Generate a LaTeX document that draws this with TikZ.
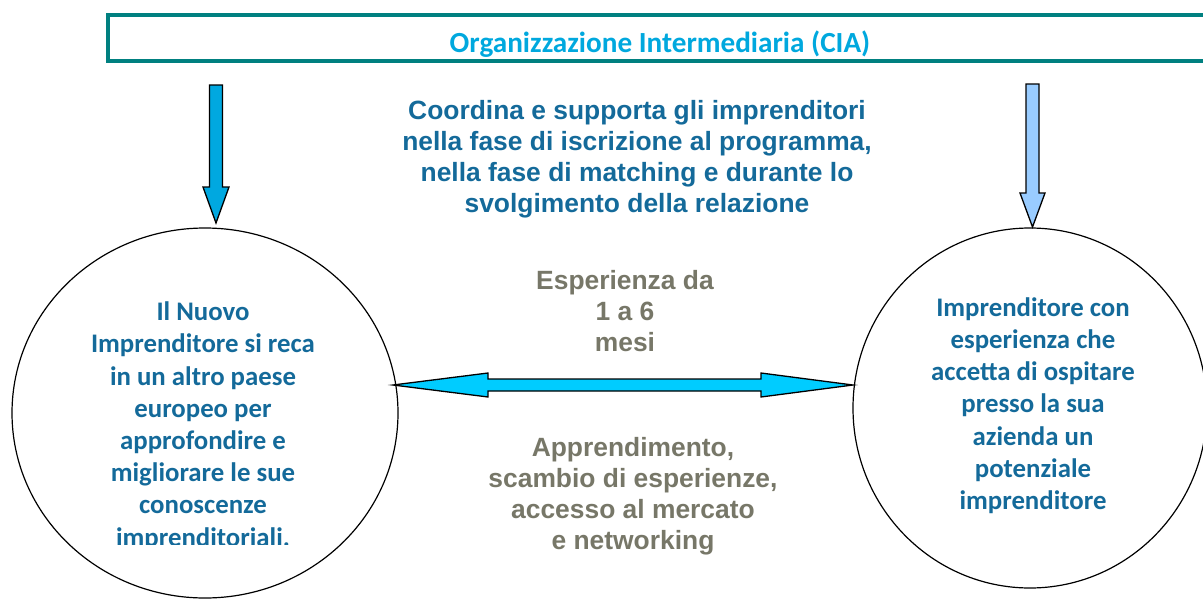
\documentclass[tikz,border=0pt]{standalone}
\usepackage{fontspec}
\setmainfont{Liberation Sans}
\newfontfamily\carl{Carlito}
\definecolor{frameteal}{RGB}{0,128,128}
\definecolor{titlecyan}{RGB}{0,168,222}
\definecolor{textblue}{RGB}{20,106,154}
\definecolor{textgray}{RGB}{119,119,104}
\definecolor{arrowblue}{RGB}{0,168,224}
\definecolor{arrowlight}{RGB}{153,204,255}
\definecolor{arrowcyan}{RGB}{0,204,255}
\tikzset{
  framebox/.style={draw=frameteal, line width=4pt},
  bubble/.style={draw=black, line width=1.2pt},
  blockarrow/.style={draw=black, line width=1.3pt, line join=miter},
  circtext/.style={font=\carl\bfseries\fontsize{26.8}{32.2}\selectfont, text=textblue, align=center, inner sep=0pt},
  midtext/.style={font=\bfseries\fontsize{26.4}{31}\selectfont, align=center, inner sep=0pt},
}
\begin{document}
\begin{tikzpicture}[x=1pt,y=-1pt]
\useasboundingbox (0,0) rectangle (1203,600);
\clip (0,0) rectangle (1203,600);

% top frame
\draw[framebox] (108,14.5) rectangle (1230,60.5);
\coordinate (ciaL) at (216,62);
\coordinate (ciaR) at (1032.5,62);
\begin{scope}
\clip (110,17) rectangle (1203,56);
\node[font=\carl\bfseries\fontsize{29.2}{32}\selectfont, text=titlecyan, anchor=base, inner sep=0pt] (cia) at (660,52) {Organizzazione Intermediaria (CIA)};
\end{scope}

% circles
\draw[bubble] (205,413) ellipse [x radius=193, y radius=185];
\node[minimum size=0pt, inner sep=0pt] (newent) at (205,413) {};
\draw[bubble] (1030,408) ellipse [x radius=177, y radius=180];
\node[minimum size=0pt, inner sep=0pt] (host) at (1030,408) {};

% vertical block arrows
\draw[blockarrow, fill=arrowblue]
  (209.5,85) -- (222.5,85) -- (222.5,187) -- (229,187) -- (216,223)
  -- (203,187) -- (209.5,187) -- cycle;
\draw[blockarrow, fill=arrowlight]
  (1026,84) -- (1039,84) -- (1039,193) -- (1045,193) -- (1032.5,227)
  -- (1020,193) -- (1026,193) -- cycle;

% horizontal double arrow
\draw[blockarrow, fill=arrowcyan]
  (393,385) -- (488,373) -- (488,379) -- (761,379) -- (761,373) -- (853,385)
  -- (761,397) -- (761,391) -- (488,391) -- (488,397) -- cycle;

% texts
\node[midtext, text=textblue] (coord) at (637,159.5)
  {Coordina e supporta gli imprenditori\\nella fase di iscrizione al programma,\\nella fase di matching e durante lo\\svolgimento della relazione};
\node[midtext, text=textgray] (esp) at (625,311)
  {Esperienza da\\1 a 6\\mesi};
\node[midtext, text=textgray] (appr) at (633,496.5)
  {Apprendimento,\\scambio di esperienze,\\accesso al mercato\\e networking};

\begin{scope}
\clip (0,0) rectangle (400,544.5);
\node[circtext] (lefttext) at (203,426)
  {Il Nuovo\\Imprenditore si reca\\in un altro paese\\europeo per\\approfondire e\\migliorare le sue\\conoscenze\\imprenditoriali.};
\end{scope}
\node[circtext] (righttext) at (1033,405.5)
  {Imprenditore con\\esperienza che\\accetta di ospitare\\presso la sua\\azienda un\\potenziale\\imprenditore};
\end{tikzpicture}
\end{document}
